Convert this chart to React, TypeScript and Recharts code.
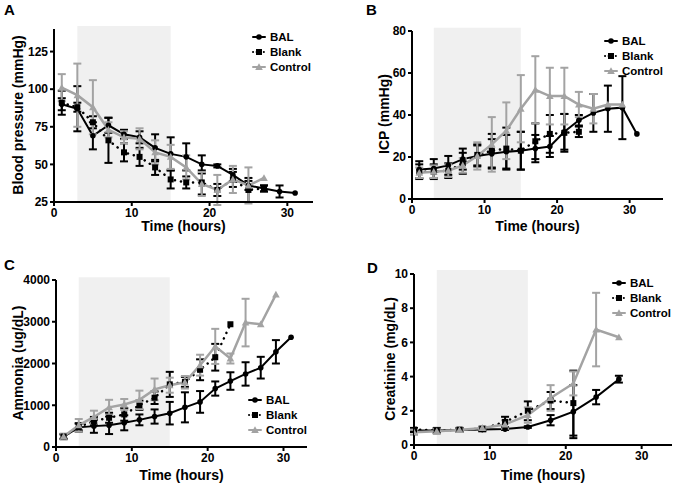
import React from 'react';
import { ComposedChart, Line, XAxis, YAxis, ErrorBar, ReferenceArea } from 'recharts';

// time points
const ODD_31 = [1, 3, 5, 7, 9, 11, 13, 15, 17, 19, 21, 23, 25, 27, 29, 31];
const ODD_29 = ODD_31.slice(0, 15);
const ODD_27 = ODD_31.slice(0, 14);
const ODD_23 = ODD_31.slice(0, 12);
const CR_T = [0, 3, 6, 9, 12, 15, 18, 21, 24, 27];
const CR_T_BLANK = CR_T.slice(0, 8);

// A - blood pressure
const BP_BAL = [90, 87, 69, 76, 70, 68, 61, 57, 55, 50, 49, 43, 36, 34, 32, 31];
const BP_BAL_ERR = [4, 15, 9, 5, 3, 4, 9, 11, 9, 6, 1, 4, 3, 2, 4, 0];
const BP_BLANK = [91, 88, 78, 66, 58, 55, 48, 40, 38, 38, 33, 40, 33, 34];
const BP_BLANK_ERR = [8, 3, 4, 15, 6, 6, 5, 6, 4, 8, 4, 5, 8, 2];
const BP_CONTROL = [101, 96, 88, 73, 68, 67, 58, 55, 48, 37, 33, 40, 36, 41];
const BP_CONTROL_ERR = [9, 21, 18, 5, 4, 7, 8, 8, 8, 8, 10, 9, 12, 0];

// B - ICP
const ICP_BAL = [14, 14.5, 16, 19, 20.5, 21.5, 22.5, 23, 24, 25, 32, 37.5, 41, 43, 43.5, 31];
const ICP_BAL_ERR = [4, 4.5, 4.5, 5, 5, 7, 8, 9, 6.5, 5, 8.5, 2.5, 9, 11, 15, 0];
const ICP_BLANK = [13, 13, 13.5, 17, 21, 23, 24, 23, 27.5, 31, 31.5, 32];
const ICP_BLANK_ERR = [3.5, 3.5, 3.5, 5, 5, 8, 10, 9, 8.5, 9, 9, 2.5];
const ICP_CONTROL = [12.5, 13, 13.5, 16, 20.5, 26, 32.5, 43, 52, 49, 49, 45, 43, 45, 45];
const ICP_CONTROL_ERR = [2.5, 3, 3, 3.5, 6.5, 13, 13.5, 16, 16, 13.5, 13.5, 6, 7, 0, 0];

// C - ammonia
const NH_BAL = [250, 470, 500, 520, 580, 650, 730, 810, 950, 1080, 1400, 1580, 1750, 1900, 2280, 2630];
const NH_BAL_ERR = [60, 100, 160, 210, 180, 130, 170, 270, 360, 260, 170, 210, 280, 260, 280, 0];
const NH_BLANK = [250, 480, 620, 700, 780, 1000, 1180, 1500, 1560, 1850, 2150, 2940];
const NH_BLANK_ERR = [50, 80, 100, 120, 150, 110, 150, 300, 120, 250, 320, 0];
const NH_CONTROL = [250, 520, 720, 950, 1020, 1130, 1380, 1480, 1550, 1960, 2410, 2120, 2980, 2940, 3650];
const NH_CONTROL_ERR = [70, 150, 150, 180, 130, 220, 260, 180, 150, 250, 420, 120, 570, 0, 0];

// D - creatinine
const CR_BAL = [0.85, 0.85, 0.88, 0.9, 0.93, 1.05, 1.45, 1.95, 2.8, 3.85];
const CR_BAL_ERR = [0.1, 0.1, 0.1, 0.1, 0.05, 0.05, 0.3, 1.55, 0.42, 0.2];
const CR_BLANK = [0.9, 0.85, 0.9, 0.95, 1.35, 2.0, 2.6, 2.45];
const CR_BLANK_ERR = [0.1, 0.15, 0.1, 0.1, 0.3, 0.55, 0.5, 1.9];
const CR_CONTROL = [0.75, 0.8, 0.88, 1.0, 1.2, 1.75, 2.75, 3.6, 6.75, 6.3];
const CR_CONTROL_ERR = [0.15, 0.15, 0.1, 0.1, 0.25, 0.45, 0.75, 0.7, 2.15, 0];

const FONT = '"Liberation Sans", Arial, sans-serif';
const GRAY = '#a3a3a3';
const BAND = '#f0f0f0';

const rows = (t: number[], v: number[], e: number[]) => t.map((x, i) => ({ t: x, v: v[i], e: e[i] }));

const circleDot = (p: any) => <circle key={`c-${p.index}`} cx={p.cx} cy={p.cy} r={2.8} fill="#000" />;
const squareDot = (p: any) => <rect key={`s-${p.index}`} x={p.cx - 3} y={p.cy - 3} width={6} height={6} fill="#000" />;
const triDot = (p: any) => (
  <polygon key={`t-${p.index}`} points={`${p.cx},${p.cy - 3.8} ${p.cx + 3.8},${p.cy + 3} ${p.cx - 3.8},${p.cy + 3}`} fill={GRAY} />
);

interface PanelProps {
  letter: string;
  letterPos: [number, number];
  plot: { l: number; r: number; t: number; b: number };
  xMax: number;
  yDomain: [number, number];
  yTicks: number[];
  bandTop: number;
  yLabel: string;
  yLabelX: number;
  xLabelY: number;
  legendPos: [number, number];
  bal: any[];
  blank: any[];
  control: any[];
}

function Legend3({ left, top }: { left: number; top: number }) {
  const items = [
    { name: 'BAL', color: '#000', mark: <circle cx={7} cy={5} r={2.8} fill="#000" />, dash: undefined },
    { name: 'Blank', color: '#000', mark: <rect x={4} y={2} width={6} height={6} fill="#000" />, dash: '0.1 3.5' },
    { name: 'Control', color: GRAY, mark: <polygon points="7,1.2 10.8,8 3.2,8" fill={GRAY} />, dash: undefined },
  ];
  return (
    <div style={{ position: 'absolute', left, top, fontFamily: FONT, fontWeight: 'bold', fontSize: 11.5 }}>
      {items.map((it) => (
        <div key={it.name} style={{ display: 'flex', alignItems: 'center', height: 15 }}>
          <svg width={14} height={10} style={{ marginRight: 4 }}>
            <line x1={1} y1={5} x2={13} y2={5} stroke={it.color} strokeWidth={2} strokeDasharray={it.dash} strokeLinecap="round" />
            {it.mark}
          </svg>
          <span style={{ color: '#000' }}>{it.name}</span>
        </div>
      ))}
    </div>
  );
}

function Panel(p: PanelProps) {
  const padL = 50;
  const padT = 10;
  const padR = 10;
  const w = p.plot.r - p.plot.l + padL + padR;
  const h = p.plot.b - p.plot.t + padT + 30;
  const tick = { fontSize: 12, fontWeight: 'bold', fill: '#000', fontFamily: FONT };
  const axisLine = { stroke: '#000', strokeWidth: 2 };
  const cx = (p.plot.l + p.plot.r) / 2;
  const cy = (p.plot.t + p.plot.b) / 2;
  return (
    <>
      <div style={{ position: 'absolute', left: p.letterPos[0], top: p.letterPos[1], fontFamily: FONT, fontWeight: 'bold', fontSize: 15 }}>
        {p.letter}
      </div>
      <div style={{ position: 'absolute', left: p.plot.l - padL, top: p.plot.t - padT }}>
        <ComposedChart width={w} height={h} margin={{ top: padT, right: padR, left: 0, bottom: 0 }}>
          <XAxis
            dataKey="t"
            type="number"
            domain={[0, p.xMax]}
            ticks={[0, 10, 20, 30]}
            allowDataOverflow
            axisLine={axisLine}
            tickLine={axisLine}
            tickSize={4}
            tick={tick}
            height={30}
          />
          <YAxis
            type="number"
            domain={p.yDomain}
            ticks={p.yTicks}
            allowDataOverflow
            axisLine={axisLine}
            tickLine={axisLine}
            tickSize={4}
            tick={tick}
            width={padL}
          />
          <ReferenceArea x1={3} x2={15} y1={p.yDomain[0]} y2={p.bandTop} fill={BAND} fillOpacity={1} stroke="none" ifOverflow="visible" />
          <Line data={p.blank} dataKey="v" stroke="#000" strokeWidth={2.5} strokeDasharray="0.1 6" strokeLinecap="round" dot={squareDot} isAnimationActive={false}>
            <ErrorBar dataKey="e" direction="y" width={4} strokeWidth={2} stroke="#000" />
          </Line>
          <Line data={p.bal} dataKey="v" stroke="#000" strokeWidth={2} dot={circleDot} isAnimationActive={false}>
            <ErrorBar dataKey="e" direction="y" width={4} strokeWidth={2} stroke="#000" />
          </Line>
          <Line data={p.control} dataKey="v" stroke={GRAY} strokeWidth={2.5} dot={triDot} isAnimationActive={false}>
            <ErrorBar dataKey="e" direction="y" width={4} strokeWidth={2} stroke={GRAY} />
          </Line>
        </ComposedChart>
      </div>
      <div
        style={{
          position: 'absolute',
          left: p.yLabelX - 100,
          top: cy - 9,
          width: 200,
          textAlign: 'center',
          transform: 'rotate(-90deg)',
          fontFamily: FONT,
          fontWeight: 'bold',
          fontSize: 14,
          whiteSpace: 'nowrap',
        }}
      >
        {p.yLabel}
      </div>
      <div
        style={{
          position: 'absolute',
          left: cx - 100,
          top: p.xLabelY - 8,
          width: 200,
          textAlign: 'center',
          fontFamily: FONT,
          fontWeight: 'bold',
          fontSize: 14,
        }}
      >
        Time (hours)
      </div>
      <Legend3 left={p.legendPos[0]} top={p.legendPos[1]} />
    </>
  );
}

export default function App() {
  return (
    <div style={{ position: 'absolute', left: 0, top: 0, width: 675, height: 483, background: '#fff', overflow: 'hidden' }}>
      <Panel
        letter="A"
        letterPos={[4, 1]}
        plot={{ l: 54, r: 313, t: 29, b: 202 }}
        xMax={33.3}
        yDomain={[25, 140]}
        yTicks={[25, 50, 75, 100, 125]}
        bandTop={142}
        yLabel="Blood pressure (mmHg)"
        yLabelX={18}
        xLabelY={226}
        legendPos={[252, 29]}
        bal={rows(ODD_31, BP_BAL, BP_BAL_ERR)}
        blank={rows(ODD_27, BP_BLANK, BP_BLANK_ERR)}
        control={rows(ODD_27, BP_CONTROL, BP_CONTROL_ERR)}
      />
      <Panel
        letter="B"
        letterPos={[366, 1]}
        plot={{ l: 412, r: 663, t: 31, b: 199 }}
        xMax={34.6}
        yDomain={[0, 80]}
        yTicks={[0, 20, 40, 60, 80]}
        bandTop={81.5}
        yLabel="ICP (mmHg)"
        yLabelX={384}
        xLabelY={226}
        legendPos={[604, 33]}
        bal={rows(ODD_31, ICP_BAL, ICP_BAL_ERR)}
        blank={rows(ODD_23, ICP_BLANK, ICP_BLANK_ERR)}
        control={rows(ODD_29, ICP_CONTROL, ICP_CONTROL_ERR)}
      />
      <Panel
        letter="C"
        letterPos={[4, 256]}
        plot={{ l: 56, r: 307, t: 280, b: 447 }}
        xMax={33.1}
        yDomain={[0, 4000]}
        yTicks={[0, 1000, 2000, 3000, 4000]}
        bandTop={4065}
        yLabel="Ammonia (ug/dL)"
        yLabelX={18}
        xLabelY={475}
        legendPos={[248, 392]}
        bal={rows(ODD_31, NH_BAL, NH_BAL_ERR)}
        blank={rows(ODD_23, NH_BLANK, NH_BLANK_ERR)}
        control={rows(ODD_29, NH_CONTROL, NH_CONTROL_ERR)}
      />
      <Panel
        letter="D"
        letterPos={[367, 259]}
        plot={{ l: 414, r: 672, t: 274, b: 445 }}
        xMax={34}
        yDomain={[0, 10]}
        yTicks={[0, 2, 4, 6, 8, 10]}
        bandTop={10.23}
        yLabel="Creatinine (mg/dL)"
        yLabelX={390}
        xLabelY={475}
        legendPos={[612, 275]}
        bal={rows(CR_T, CR_BAL, CR_BAL_ERR)}
        blank={rows(CR_T_BLANK, CR_BLANK, CR_BLANK_ERR)}
        control={rows(CR_T, CR_CONTROL, CR_CONTROL_ERR)}
      />
    </div>
  );
}
